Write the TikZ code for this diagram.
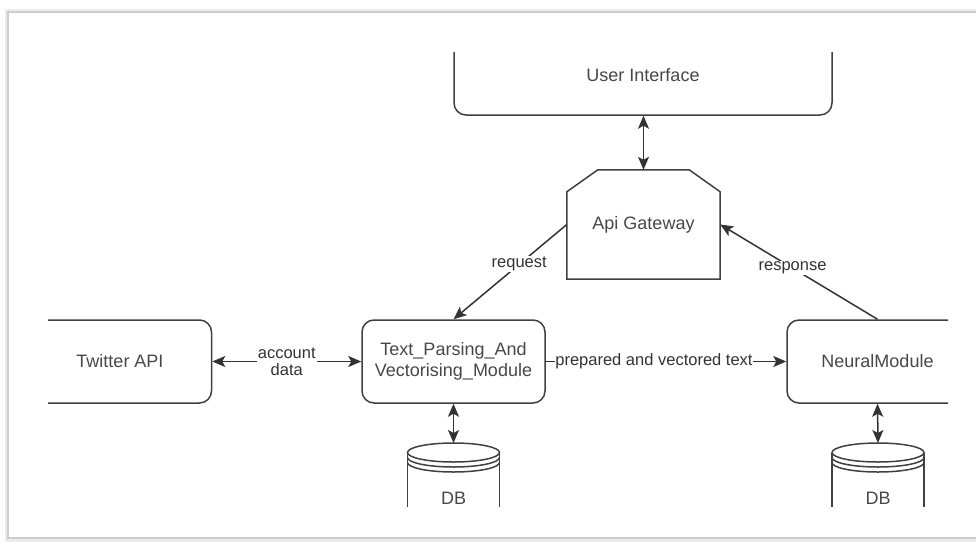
\documentclass[tikz,border=0pt]{standalone}
\usepackage{fontspec}
\setmainfont{Liberation Sans}
\usetikzlibrary{arrows.meta}

\begin{document}
\begin{tikzpicture}[x=1pt, y=-1pt, >={Stealth[length=13pt,width=11pt,inset=3pt]},
    box/.style={draw=black!75, line width=1.5pt, rounded corners=12pt, text=black!72,
      font=\fontsize{18}{21}\selectfont, align=center, minimum width=183pt,
      minimum height=83pt, inner sep=0pt},
    lbl/.style={fill=white, text=black!80, font=\fontsize{16.5}{17}\selectfont,
      inner sep=1pt, align=center},
    link/.style={draw=black!80, line width=1.5pt},
    dbcan/.pic={
      \draw[line width=1.5pt, draw=black!75] (0,9.5) ellipse [x radius=46, y radius=9.5];
      \foreach \dy in {5,10}
        \draw[line width=1.5pt, draw=black!75] (-46,9.5+\dy) arc [start angle=180, end angle=0, x radius=46, y radius=9.5];
      \draw[line width=1.5pt, draw=black!75] (-46,9.5) -- (-46,80) (46,9.5) -- (46,80);
    }]

    \useasboundingbox (0,0) rectangle (976,541);

    % frame of the screenshot
    \draw[black!8, line width=3pt] (990,10) -- (6,10) -- (6,540) -- (990,540);
    \draw[black!20, line width=1.2pt] (990,12) -- (8,12) -- (8,538) -- (990,538);

    \begin{scope}
    \clip (48,52) rectangle (948,506);

    \node[box, minimum width=378pt, minimum height=80pt] (ui) at (643,75) {User Interface};
    \node[minimum width=153pt, minimum height=109pt, inner sep=0pt, text=black!72,
      font=\fontsize{18}{21}\selectfont] (api) at (643.5,224.5) {Api Gateway};
    \draw[line width=1.5pt, draw=black!75] (api.south west) -- ([yshift=-22pt]api.north west)
      -- ([xshift=31pt]api.north west) -- ([xshift=-31pt]api.north east)
      -- ([yshift=-22pt]api.north east) -- (api.south east) -- cycle;

    \node[box] (tw) at (120,361.5) {Twitter API};
    \node[box] (tp) at (453.5,361.5) {Text\_Parsing\_And\\Vectorising\_Module};
    \node[box, minimum width=181pt] (nm) at (877.5,361.5) {NeuralModule};

    \coordinate (db1) at (453.5,443);
    \coordinate (db2) at (878,443);
    \pic at (db1) {dbcan};
    \pic at (db2) {dbcan};
    \node[text=black!72, font=\fontsize{18}{21}\selectfont] (db1txt) at (453.5,498) {DB};
    \node[text=black!72, font=\fontsize{18}{21}\selectfont] (db2txt) at (878,498) {DB};

    \draw[link, <->] (ui.south -| api.north) -- (api.north);
    \draw[link, ->] (api.west) -- node[lbl, pos=.42] {request} (tp.north);
    \draw[link, ->] (nm.north) -- node[lbl, pos=.54] {response} (api.east);
    \draw[link, <->] (tw.east) -- node[lbl] {account\\data} (tp.west);
    \draw[link, ->] (tp.east) -- node[lbl, pos=.45, inner xsep=0pt] {prepared and vectored text} (nm.west);
    \draw[link, <->] (tp.south) -- (db1);
    \draw[link, <->] (nm.south) -- (db2);
    \end{scope}

\end{tikzpicture}
\end{document}
